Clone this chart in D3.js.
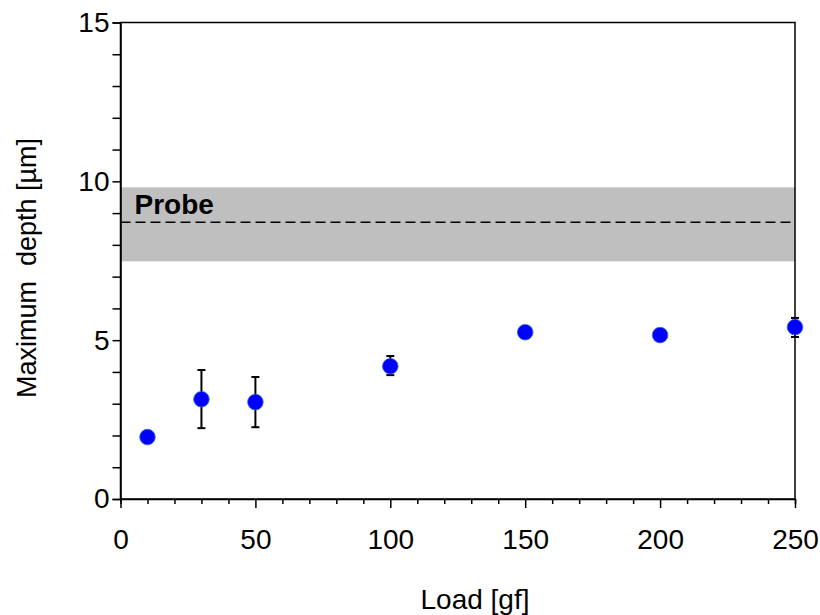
<!DOCTYPE html>
<html>
<head>
<meta charset="utf-8">
<script src="https://cdn.jsdelivr.net/npm/d3@7"></script>
<style>
  body { margin: 0; background: #fff; }
  text { font-family: "Liberation Sans", Arial, sans-serif; }
</style>
</head>
<body>
<div id="chart"></div>
<script>
const W = 820, H = 615;
const MARGIN = { top: 22.5, right: 25, bottom: 116, left: 120.5 };
const PW = W - MARGIN.left - MARGIN.right, PH = H - MARGIN.top - MARGIN.bottom;
const FONT = 28;

// data
const loads = [10, 30, 50, 100, 150, 200, 250];
const depth = [1.95, 3.14, 3.05, 4.18, 5.25, 5.16, 5.41];
const errLow = [1.95, 2.23, 2.26, 3.9, 5.25, 5.16, 5.1];
const errHigh = [1.95, 4.06, 3.84, 4.5, 5.25, 5.16, 5.7];
const probeBand = [7.48, 9.81];
const probeMean = 8.71;
const xTicks = [0, 50, 100, 150, 200, 250];
const yTicks = [0, 5, 10, 15];

const svg = d3.select("#chart").append("svg")
    .attr("width", W).attr("height", H)
    .append("g").attr("transform", "translate(" + MARGIN.left + "," + MARGIN.top + ")");

const x = d3.scaleLinear().domain([0, 250]).range([0, PW]);
const y = d3.scaleLinear().domain([0, 15]).range([PH, 0]);

// probe band
svg.append("rect")
    .attr("x", 0).attr("width", PW)
    .attr("y", y(probeBand[1])).attr("height", y(probeBand[0]) - y(probeBand[1]))
    .attr("fill", "#bfbfbf");
svg.append("line")
    .attr("x1", 0).attr("x2", PW)
    .attr("y1", y(probeMean)).attr("y2", y(probeMean))
    .attr("stroke", "#000").attr("stroke-width", 1.5)
    .attr("stroke-dasharray", "10,5");
svg.append("text")
    .attr("x", 14).attr("y", y(probeMean) - 8)
    .attr("font-size", FONT).attr("font-weight", "bold")
    .text("Probe");

// frame
svg.append("rect")
    .attr("x", 0).attr("y", 0).attr("width", PW).attr("height", PH)
    .attr("fill", "none").attr("stroke", "#000").attr("stroke-width", 1.5);

// axes
const xAxisG = svg.append("g").attr("transform", "translate(0," + PH + ")");
xAxisG.call(d3.axisBottom(x).tickValues(d3.range(0, 251, 10)).tickSize(5).tickFormat(""));
xAxisG.call(g => g.selectAll(".tick").filter(d => d % 50 === 0).select("line").attr("y2", 9));
const xLab = svg.append("g").attr("transform", "translate(0," + PH + ")")
    .call(d3.axisBottom(x).tickValues(xTicks).tickSize(0).tickPadding(30));
xLab.select(".domain").remove();

const yAxisG = svg.append("g");
yAxisG.call(d3.axisLeft(y).tickValues(d3.range(0, 16, 1)).tickSize(8).tickFormat(""));
const yLab = svg.append("g")
    .call(d3.axisLeft(y).tickValues(yTicks).tickSize(0).tickPadding(11));
yLab.select(".domain").remove();

svg.selectAll(".domain, .tick line").attr("stroke", "#000").attr("stroke-width", 1.5);
svg.selectAll(".tick text").attr("font-size", FONT).attr("fill", "#000")
    .style("font-family", "'Liberation Sans', Arial, sans-serif");

// error bars
const pts = loads.map((l, i) => ({ x: l, y: depth[i], lo: errLow[i], hi: errHigh[i] }));
const eb = svg.append("g").attr("stroke", "#000").attr("stroke-width", 2);
pts.filter(d => d.hi - d.lo > 0.01).forEach(d => {
    eb.append("line").attr("x1", x(d.x)).attr("x2", x(d.x)).attr("y1", y(d.lo)).attr("y2", y(d.hi));
    eb.append("line").attr("x1", x(d.x) - 4).attr("x2", x(d.x) + 4).attr("y1", y(d.lo)).attr("y2", y(d.lo));
    eb.append("line").attr("x1", x(d.x) - 4).attr("x2", x(d.x) + 4).attr("y1", y(d.hi)).attr("y2", y(d.hi));
});

svg.append("g").selectAll("circle").data(pts).join("circle")
    .attr("cx", d => x(d.x)).attr("cy", d => y(d.y)).attr("r", 7.8)
    .attr("fill", "#0000ff").attr("stroke", "#3366dd").attr("stroke-width", 0.8);

// axis titles
svg.append("text")
    .attr("x", 475 - MARGIN.left).attr("y", PH + 110)
    .attr("text-anchor", "middle").attr("font-size", FONT)
    .text("Load [gf]");
svg.append("text")
    .attr("transform", "translate(" + (36 - MARGIN.left) + "," + (268 - MARGIN.top) + ") rotate(-90)")
    .attr("text-anchor", "middle").attr("font-size", 27)
    .attr("xml:space", "preserve").style("white-space", "pre")
    .text("Maximum  depth [µm]");
</script>
</body>
</html>
